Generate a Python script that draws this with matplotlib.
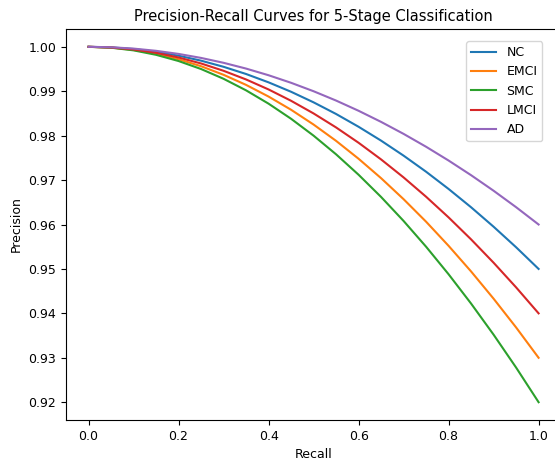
import matplotlib
matplotlib.use("Agg")
import matplotlib.pyplot as plt

# Recall points read along the x axis
recall = [0.0, 0.05, 0.1, 0.15, 0.2, 0.25, 0.3, 0.35, 0.4, 0.45, 0.5,
          0.55, 0.6, 0.65, 0.7, 0.75, 0.8, 0.85, 0.9, 0.95, 1.0]

# Precision values
nc = [1.0, 0.99988, 0.9995, 0.99888, 0.998, 0.99688, 0.9955, 0.99388, 0.992, 0.98988, 0.9875,
      0.98488, 0.982, 0.97888, 0.9755, 0.97188, 0.968, 0.96388, 0.9595, 0.95488, 0.95]
emci = [1.0, 0.99983, 0.9993, 0.99843, 0.9972, 0.99563, 0.9937, 0.99143, 0.9888, 0.98583, 0.9825,
        0.97883, 0.9748, 0.97043, 0.9657, 0.96063, 0.9552, 0.94943, 0.9433, 0.93683, 0.93]
smc = [1.0, 0.9998, 0.9992, 0.9982, 0.9968, 0.995, 0.9928, 0.9902, 0.9872, 0.9838, 0.98,
       0.9758, 0.9712, 0.9662, 0.9608, 0.955, 0.9488, 0.9422, 0.9352, 0.9278, 0.92]
lmci = [1.0, 0.99985, 0.9994, 0.99865, 0.9976, 0.99625, 0.9946, 0.99265, 0.9904, 0.98785, 0.985,
        0.98185, 0.9784, 0.97465, 0.9706, 0.96625, 0.9616, 0.95665, 0.9514, 0.94585, 0.94]
ad = [1.0, 0.9999, 0.9996, 0.9991, 0.9984, 0.9975, 0.9964, 0.9951, 0.9936, 0.9919, 0.99,
      0.9879, 0.9856, 0.9831, 0.9804, 0.9775, 0.9744, 0.9711, 0.9676, 0.9639, 0.96]

labels = ["NC", "EMCI", "SMC", "LMCI", "AD"]
series = [nc, emci, smc, lmci, ad]

plt.rcParams["font.size"] = 9

fig = plt.figure(figsize=(5.55, 4.61), dpi=100)
# axes run past the right edge, as in the cropped reference
ax = fig.add_axes([0.119, 0.089, 0.892, 0.848])

for lab, vals in zip(labels, series):
    ax.plot(recall, vals, label=lab, linewidth=1.5)

ax.spines["right"].set_visible(False)

ax.set_xlabel("Recall")
ax.set_ylabel("Precision")
ax.set_title("Precision-Recall Curves for 5-Stage Classification", fontsize=10.5)
ax.legend(loc="upper right", bbox_to_anchor=(0.975, 0.985))

fig.savefig("out.png", dpi=100)
